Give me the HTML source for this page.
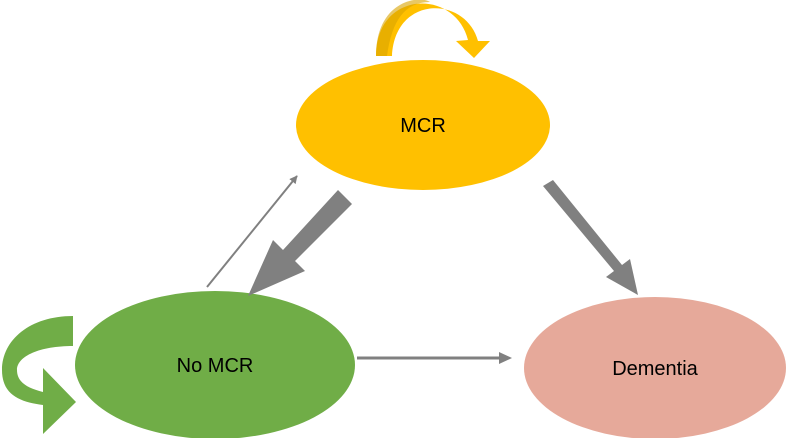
<!DOCTYPE html>
<html><head><style>body{margin:0;background:#fff}</style></head><body>
<svg width="788" height="438" xmlns="http://www.w3.org/2000/svg" style="display:block">
<defs>
<marker id="m" viewBox="0 0 10 10" refX="9" refY="5" markerWidth="4" markerHeight="4" orient="auto"><path d="M0,0L10,5L0,10z" fill="#808080"/></marker>
</defs>
<ellipse cx="423" cy="125" rx="127" ry="65" fill="#FFC000"/>
<ellipse cx="215" cy="365" rx="140" ry="74" fill="#70AD47"/>
<ellipse cx="655" cy="368" rx="131" ry="71" fill="#E6A99A"/>
<g font-family="Liberation Sans, sans-serif" font-size="20" text-anchor="middle" fill="#000">
<text x="423" y="132">MCR</text>
<text x="215" y="372">No MCR</text>
<text x="655" y="375">Dementia</text>
</g>
<!-- yellow self loop -->
<path d="M376,56 C376,-10 455,-12 468,40 L456,41 L474,58 L490,41 L478,41 C466,-4 395,-6 392,56 Z" fill="#FFC000"/>
<path d="M376,56 C376,0 420,-5 430,2 C405,2 392,20 387,56 Z" fill="#D9A300" opacity="0.6"/>
<!-- green self loop -->
<path d="M73,316 C30,316 2,340 2,370 C2,395 20,402 43,405 L43,434 L76,402 L43,368 L43,392 C27,388 17,382 17,370 C17,356 40,346 73,346 Z" fill="#70AD47"/>
<!-- grey arrows -->
<line x1="207" y1="287" x2="297" y2="176" stroke="#808080" stroke-width="2" marker-end="url(#m)"/>
<path d="M338,190 L352,204 L295,261 L305,271 L248,296 L273,240 L283,250 Z" fill="#808080"/>
<path d="M543,186 L553,180 L622,265 L630,259 L638,295 L606,277 L614,271 Z" fill="#808080"/>
<line x1="357" y1="358" x2="501" y2="358" stroke="#808080" stroke-width="3"/>
<path d="M499,352 L512,358 L499,364 Z" fill="#808080"/>
</svg>
</body></html>
